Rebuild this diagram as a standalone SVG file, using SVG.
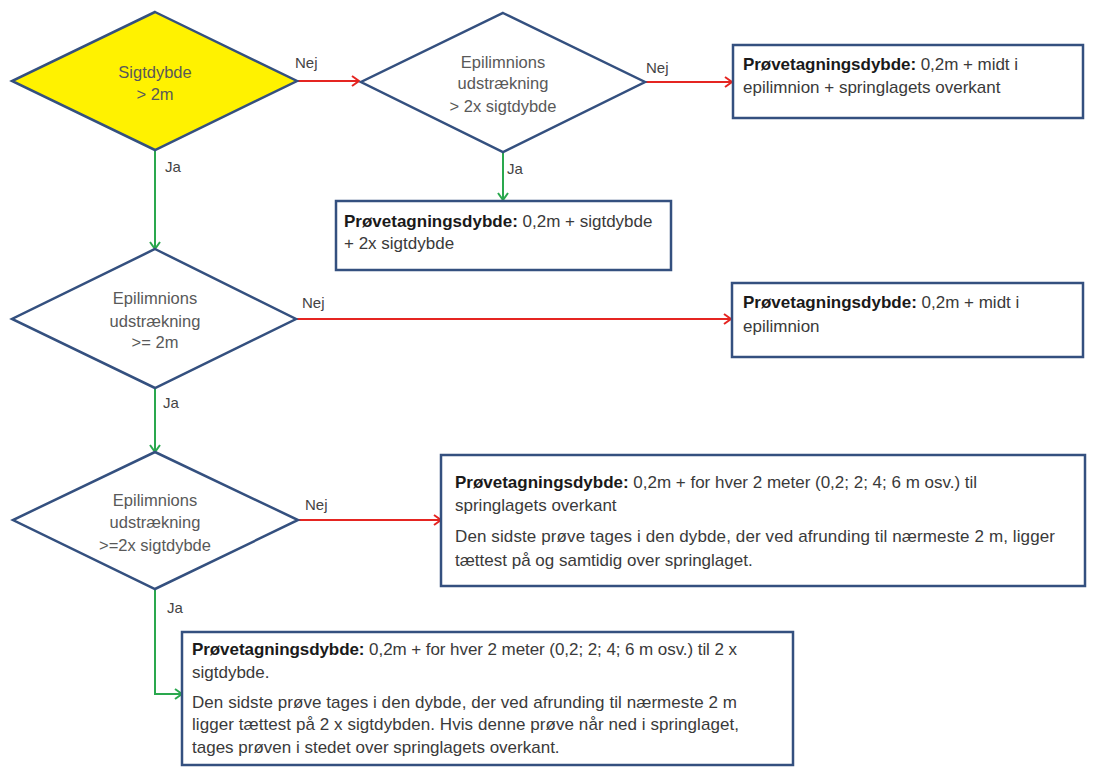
<svg xmlns="http://www.w3.org/2000/svg" width="1115" height="781" viewBox="0 0 1115 781">
<defs>
<style>
.dia{fill:#fff;stroke:#34507f;stroke-width:2.5;stroke-linejoin:miter}
.box{fill:#fff;stroke:#34507f;stroke-width:2.5}
.dt{font-family:"Liberation Sans",Arial,sans-serif;font-size:16.5px;fill:#595959;text-anchor:middle}
.bt{font-family:"Liberation Sans",Arial,sans-serif;font-size:17px;fill:#3a3a3a}
.bt tspan.b{font-weight:bold;fill:#1a1a1a}
.lbl{font-family:"Liberation Sans",Arial,sans-serif;font-size:15px;fill:#444}
.red{stroke:#e52521;stroke-width:2;fill:none}
.grn{stroke:#2aa84e;stroke-width:2;fill:none}
</style>
<marker id="ar" markerWidth="12" markerHeight="12" refX="10" refY="6" orient="auto" markerUnits="userSpaceOnUse">
<path d="M3,1 L10,6 L3,11" fill="none" stroke="#e52521" stroke-width="2"/>
</marker>
<marker id="ag" markerWidth="12" markerHeight="12" refX="10" refY="6" orient="auto" markerUnits="userSpaceOnUse">
<path d="M3,1 L10,6 L3,11" fill="none" stroke="#2aa84e" stroke-width="2"/>
</marker>
</defs>
<rect width="1115" height="781" fill="#fff"/>
<g id="connectors">
<path class="red" d="M297,81 L359,81" marker-end="url(#ar)"/>
<path class="red" d="M645,82 L732,82" marker-end="url(#ar)"/>
<path class="grn" d="M503,152 L503,200" marker-end="url(#ag)"/>
<path class="grn" d="M155,150 L155,249" marker-end="url(#ag)"/>
<path class="red" d="M297,319 L731,319" marker-end="url(#ar)"/>
<path class="grn" d="M155,388 L155,452" marker-end="url(#ag)"/>
<path class="red" d="M298,520 L441,520" marker-end="url(#ar)"/>
<path class="grn" d="M155,589 L155,694 L182,694" marker-end="url(#ag)"/>
<text class="lbl" x="295" y="68">Nej</text>
<text class="lbl" x="646" y="73">Nej</text>
<text class="lbl" x="302" y="308">Nej</text>
<text class="lbl" x="305" y="510">Nej</text>
<text class="lbl" x="165" y="172">Ja</text>
<text class="lbl" x="507" y="174">Ja</text>
<text class="lbl" x="163" y="408">Ja</text>
<text class="lbl" x="167" y="613">Ja</text>
</g>
<g id="d1">
<polygon class="dia" points="155,12 297,81 155,150 12,81" style="fill:#fff200"/>
<text class="dt" x="155" y="78">Sigtdybde</text>
<text class="dt" x="155" y="100">&gt; 2m</text>
</g>
<g id="d2">
<polygon class="dia" points="503,13 645,82 503,152 361,82"/>
<text class="dt" x="503" y="68">Epilimnions</text>
<text class="dt" x="503" y="89">udstrækning</text>
<text class="dt" x="503" y="112">&gt; 2x sigtdybde</text>
</g>
<g id="b1">
<rect class="box" x="733" y="45" width="350" height="73"/>
<text class="bt" x="743" y="70" textLength="275"><tspan class="b">Prøvetagningsdybde:</tspan> 0,2m  + midt i</text>
<text class="bt" x="743" y="93">epilimnion  + springlagets overkant</text>
</g>
<g id="b2">
<rect class="box" x="336" y="201" width="335" height="69"/>
<text class="bt" x="344" y="227"><tspan class="b">Prøvetagningsdybde:</tspan> 0,2m + sigtdybde</text>
<text class="bt" x="344" y="249">+ 2x sigtdybde</text>
</g>
<g id="d3">
<polygon class="dia" points="155,249 296,319 155,388 12,319"/>
<text class="dt" x="155" y="304">Epilimnions</text>
<text class="dt" x="155" y="327">udstrækning</text>
<text class="dt" x="155" y="348">&gt;= 2m</text>
</g>
<g id="b3">
<rect class="box" x="732" y="283" width="351" height="74"/>
<text class="bt" x="743" y="308"><tspan class="b">Prøvetagningsdybde:</tspan> 0,2m + midt i</text>
<text class="bt" x="743" y="332">epilimnion</text>
</g>
<g id="d4">
<polygon class="dia" points="155,452 298,520 155,589 13,520"/>
<text class="dt" x="155" y="506">Epilimnions</text>
<text class="dt" x="155" y="528">udstrækning</text>
<text class="dt" x="155" y="551">&gt;=2x sigtdybde</text>
</g>
<g id="b4">
<rect class="box" x="441" y="455" width="644" height="131"/>
<text class="bt" x="455" y="488" textLength="522"><tspan class="b">Prøvetagningsdybde:</tspan> 0,2m + for hver 2 meter (0,2; 2; 4; 6 m osv.) til</text>
<text class="bt" x="455" y="511">springlagets overkant</text>
<text class="bt" x="455" y="542" textLength="600">Den sidste prøve tages i den dybde, der ved afrunding til nærmeste 2 m, ligger</text>
<text class="bt" x="455" y="566">tættest på og samtidig over springlaget.</text>
</g>
<g id="b5">
<rect class="box" x="182" y="632" width="611" height="133"/>
<text class="bt" x="192" y="655" textLength="545"><tspan class="b">Prøvetagningsdybde:</tspan> 0,2m + for hver 2 meter (0,2; 2; 4; 6 m osv.) til 2 x</text>
<text class="bt" x="192" y="678">sigtdybde.</text>
<text class="bt" x="192" y="708" textLength="545">Den sidste prøve tages i den dybde, der ved afrunding til nærmeste 2 m</text>
<text class="bt" x="192" y="730" textLength="547">ligger tættest på 2 x sigtdybden. Hvis denne prøve når ned i springlaget,</text>
<text class="bt" x="192" y="753">tages prøven i stedet over springlagets overkant.</text>
</g>
</svg>
